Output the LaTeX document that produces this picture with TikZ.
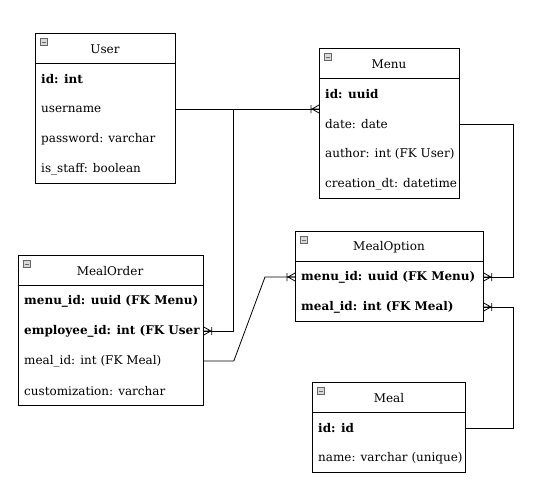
\documentclass[tikz,border=0pt]{standalone}
\usepackage{fontspec}
\setmainfont{DejaVu Serif}
\begin{document}
\begin{tikzpicture}[x=1pt,y=-1pt,
  tbl/.style={draw, line width=0.8pt, inner sep=0, anchor=north west},
  fld/.style={anchor=west, inner sep=0, yshift=-1pt, font=\fontsize{12}{14}\selectfont},
  bfld/.style={fld, font=\fontsize{12}{14}\selectfont\bfseries},
  ttl/.style={inner sep=0, yshift=-1pt, font=\fontsize{12}{14}\selectfont},
  icon/.style={draw=black!60, fill=black!15, line width=0.5pt, minimum size=7pt, inner sep=0,
    path picture={\draw[line width=0.7pt] ([xshift=1.3pt]path picture bounding box.west) -- ([xshift=-1.3pt]path picture bounding box.east);}},
  conn/.style={line width=0.8pt},
  crow/.pic={\draw[line width=0.8pt] (0,-4) -- (-7,0) -- (0,4) (-7,0) -- (0,0) (-8,-4) -- (-8,4);}
]
\useasboundingbox (0,0) rectangle (536,493);

% User
\node[tbl, minimum width=140pt, minimum height=150pt] (user) at (35,33) {};
\draw[line width=0.8pt] ([yshift=-30pt]user.north west) -- ([yshift=-30pt]user.north east);
\node[icon] (usericon) at (44,42) {};
\node[ttl] (usert) at (105,48) {User};
\node[bfld] (uid) at (41,78) {id: int};
\node[fld] (uname) at (41,108) {username};
\node[fld] (upass) at (41,138) {password: varchar};
\node[fld] (ustaff) at (41,168) {is\_staff: boolean};

% Menu
\node[tbl, minimum width=140pt, minimum height=150pt] (menu) at (319,48) {};
\draw[line width=0.8pt] ([yshift=-30pt]menu.north west) -- ([yshift=-30pt]menu.north east);
\node[icon] (menuicon) at (328,57) {};
\node[ttl] (menut) at (389,63) {Menu};
\node[bfld] (mid) at (325,93) {id: uuid};
\node[fld] (mdate) at (325,123) {date: date};
\node[fld] (mauthor) at (325,153) {author: int (FK User)};
\node[fld] (mcreat) at (325,183) {creation\_dt: datetime};

% MealOrder
\node[tbl, minimum width=185pt, minimum height=150pt] (mealorder) at (18,255) {};
\draw[line width=0.8pt] ([yshift=-30pt]mealorder.north west) -- ([yshift=-30pt]mealorder.north east);
\node[icon] (moicon) at (27,264) {};
\node[ttl] (mot) at (110,270) {MealOrder};
\node[bfld] (omenu) at (24,300) {menu\_id: uuid (FK Menu)};
\begin{scope}
\clip (18,315) rectangle (202,345);
\node[bfld] (oemp) at (24,330) {employee\_id: int (FK User};
\end{scope}
\node[fld] (omeal) at (24,360) {meal\_id: int (FK Meal)};
\node[fld] (ocust) at (24,390) {customization: varchar};

% MealOption
\node[tbl, minimum width=188pt, minimum height=90pt] (mealoption) at (295,231) {};
\draw[line width=0.8pt] ([yshift=-30pt]mealoption.north west) -- ([yshift=-30pt]mealoption.north east);
\node[icon] (opicon) at (304,240) {};
\node[ttl] (opt) at (389,246) {MealOption};
\node[bfld] (pmenu) at (301,276) {menu\_id: uuid (FK Menu)};
\node[bfld] (pmeal) at (301,306) {meal\_id: int (FK Meal)};

% Meal
\node[tbl, minimum width=153pt, minimum height=90pt] (meal) at (312,382) {};
\draw[line width=0.8pt] ([yshift=-30pt]meal.north west) -- ([yshift=-30pt]meal.north east);
\node[icon] (mlicon) at (321,391) {};
\node[ttl] (mlt) at (389,397) {Meal};
\node[bfld] (lid) at (318,427) {id: id};
\node[fld] (lname) at (318,457) {name: varchar (unique)};

% connectors
\draw[conn] (user.east |- uname) -- (menu.west |- uname);
\pic at (menu.west |- uname) {crow};
\draw[conn] (user.east |- uname) -- ++(58,0) |- (mealorder.east |- oemp);
\pic[rotate=180] at (mealorder.east |- oemp) {crow};
\draw[conn] (mealorder.east |- omeal) -- ++(30,0) -- ([xshift=-30pt]mealoption.west |- pmenu) -- (mealoption.west |- pmenu);
\pic at (mealoption.west |- pmenu) {crow};
\draw[conn] (menu.east |- mdate) -- ++(54,0) |- (mealoption.east |- pmenu);
\pic[rotate=180] at (mealoption.east |- pmenu) {crow};
\draw[conn] (meal.east |- lid) -- ++(48,0) |- (mealoption.east |- pmeal);
\pic[rotate=180] at (mealoption.east |- pmeal) {crow};
\end{tikzpicture}
\end{document}
